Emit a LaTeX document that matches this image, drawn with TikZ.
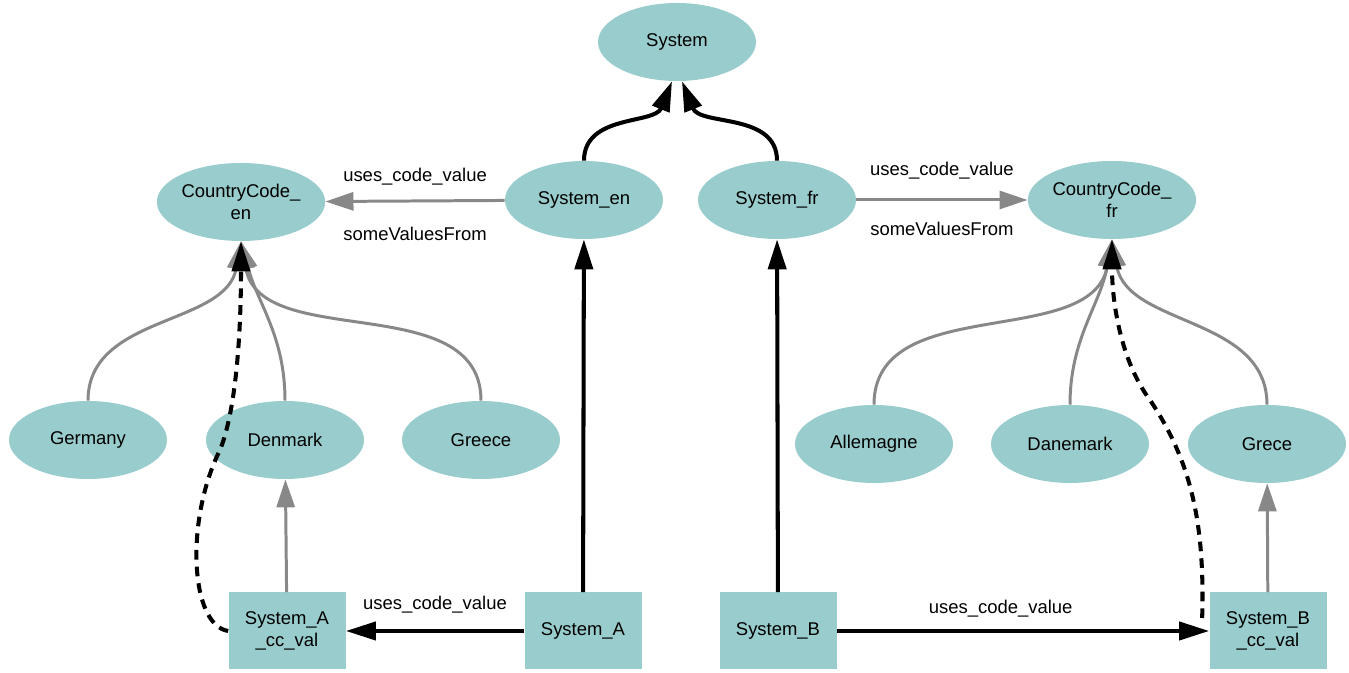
\documentclass[tikz,border=0pt]{standalone}
\usepackage{fontspec}
\setmainfont{Liberation Sans}
\usepackage{tikz}
\usetikzlibrary{arrows.meta,positioning,shapes.geometric}
\definecolor{classfill}{RGB}{153,204,204}
\definecolor{edgegray}{RGB}{136,136,136}

\begin{document}
\begin{tikzpicture}[
    classnode/.style={ellipse, fill=classfill, minimum width=3.16cm, minimum height=1.56cm, inner sep=0pt, align=center, font=\fontsize{10.5}{12.5}\selectfont},
    indnode/.style={rectangle, fill=classfill, minimum width=2.34cm, minimum height=1.54cm, inner sep=0pt, align=center, font=\fontsize{10.5}{12.5}\selectfont},
    edge label/.style={font=\fontsize{10.5}{12.5}\selectfont, inner sep=1pt},
    subarrow/.style={-{Triangle[length=0.6cm, width=0.36cm]}, line width=2.3pt},
    grayarrow/.style={-{Triangle[length=0.56cm, width=0.36cm]}, draw=edgegray, line width=1.7pt},
    dasharrow/.style={subarrow, dash pattern=on 5.5pt off 4pt},
]
    \useasboundingbox (0,0) rectangle (26.98,13.46);

    % Top class
    \node[classnode] (system) at (13.54,12.62) {System};

    % Language specific systems and code lists
    \node[classnode] (sys_en) at (11.68,9.46) {System\_en};
    \node[classnode] (sys_fr) at (15.54,9.46) {System\_fr};
    \node[classnode] (cc_en) at (4.82,9.42) {CountryCode\_\\en};
    \node[classnode] (cc_fr) at (22.24,9.46) {CountryCode\_\\fr};

    % Code values
    \node[classnode] (germany) at (1.76,4.66) {Germany};
    \node[classnode] (denmark) at (5.70,4.66) {Denmark};
    \node[classnode] (greece) at (9.62,4.66) {Greece};
    \node[classnode] (allemagne) at (17.48,4.58) {Allemagne};
    \node[classnode] (danemark) at (21.40,4.58) {Danemark};
    \node[classnode] (grece) at (25.34,4.58) {Grece};

    % Individuals
    \node[indnode] (sa_val) at (5.74,0.84) {System\_A\\\_cc\_val};
    \node[indnode] (sys_a) at (11.66,0.84) {System\_A};
    \node[indnode] (sys_b) at (15.56,0.84) {System\_B};
    \node[indnode] (sb_val) at (25.36,0.84) {System\_B\\\_cc\_val};

    % Subclass edges
    \draw[subarrow] (sys_en.north) to[out=90, in=-112] ([xshift=-0.1cm]system.south);
    \draw[subarrow] (sys_fr.north) to[out=90, in=-68] ([xshift=0.1cm]system.south);
    \draw[subarrow] (sys_a) -- (sys_en);
    \draw[subarrow] (sys_b) -- (sys_fr);

    % Restrictions
    \draw[grayarrow] (sys_en) -- node[edge label, above=7pt] {uses\_code\_value}
        node[edge label, below=13pt] {someValuesFrom} (cc_en);
    \draw[grayarrow] (sys_fr) -- node[edge label, above=10pt] {uses\_code\_value}
        node[edge label, below=11pt] {someValuesFrom} (cc_fr);

    % Members of the code lists
    \draw[grayarrow] (germany.north) to[out=90, in=-100] (cc_en.south);
    \draw[grayarrow] (denmark.north) to[out=90, in=-75] (cc_en.south);
    \draw[grayarrow] (greece.north) to[out=90, in=-80] (cc_en.south);
    \draw[grayarrow] (allemagne.north) to[out=90, in=-100] (cc_fr.south);
    \draw[grayarrow] (danemark.north) to[out=90, in=-100] (cc_fr.south);
    \draw[grayarrow] (grece.north) to[out=90, in=-80] (cc_fr.south);
    \draw[grayarrow] (sa_val) -- (denmark);
    \draw[grayarrow] (sb_val) -- (grece);

    % Property values
    \draw[subarrow] (sys_a) -- node[edge label, above=8pt] {uses\_code\_value} (sa_val);
    \draw[subarrow] (sys_b) -- node[edge label, above=6pt, pos=0.44] {uses\_code\_value} (sb_val);

    % Type of the value individuals
    \draw[dasharrow] (sa_val.west) .. controls (3.80,0.96) and (3.70,3.06) .. (4.40,4.46)
        .. controls (4.80,5.46) and (4.82,7.46) .. (cc_en.south);
    \draw[dasharrow] ([xshift=-0.14cm, yshift=0.26cm]sb_val.west) .. controls (24.10,3.06) and (23.80,4.26) .. (23.0,5.46)
        .. controls (22.40,6.26) and (22.24,7.46) .. (cc_fr.south);
\end{tikzpicture}
\end{document}
